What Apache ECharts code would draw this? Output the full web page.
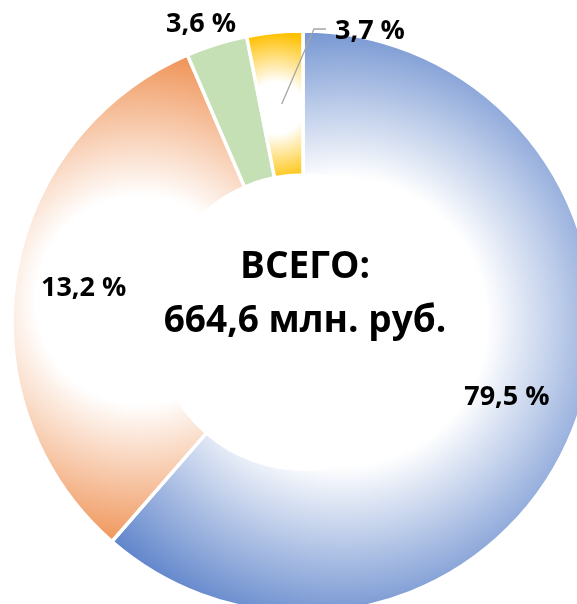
<!DOCTYPE html>
<html>
<head>
<meta charset="utf-8">
<script src="https://cdn.jsdelivr.net/npm/echarts@6/dist/echarts.min.js"></script>
<style>
  html, body { margin: 0; padding: 0; background: #fff; }
  #main { width: 577px; height: 604px; }
</style>
</head>
<body>
<div id="main"></div>
<script>
// label texts as printed on the chart
var shareLabels = ["79,5 %", "13,2 %", "3,6 %", "3,7 %"];
// slice sizes as drawn (measured from the angles in the picture)
var sliceSizes = [61.4, 32.1, 3.4, 3.1];
var sliceColors = ["#5d83ca", "#ee8a48", "#c5e0b4", "#ffc000"];
var totalLines = ["ВСЕГО:", "664,6 млн. руб."];

var cx = 303, cy = 322;
var font = "'Open Sans', 'Noto Sans', sans-serif";

var chartDom = document.getElementById("main");
var myChart = echarts.init(chartDom);

function glow(x, y, r, from, color) {
  return {
    type: "radial", x: x, y: y, r: r, global: true,
    colorStops: [
      { offset: 0, color: "#ffffff" },
      { offset: from, color: "#ffffff" },
      { offset: 1, color: color }
    ]
  };
}

var fills = [
  glow(cx + 40, cy, 320, 0.45, sliceColors[0]),
  glow(140, cy - 22, 260, 0.4, sliceColors[1]),
  sliceColors[2],
  glow(276, 108, 75, 0.35, sliceColors[3])
];

var data = sliceSizes.map(function (v, i) {
  var d = { value: v, itemStyle: { color: fills[i] } };
  if (i >= 2) {
    d.label = { position: "outside" };
  }
  return d;
});

function midPoint(i, r) {
  var s = 0;
  for (var k = 0; k < i; k++) s += sliceSizes[k];
  var total = sliceSizes.reduce(function (a, b) { return a + b; }, 0);
  var a = (90 - (s + sliceSizes[i] / 2) / total * 360) * Math.PI / 180;
  return [cx + r * Math.cos(a), cy - r * Math.sin(a)];
}

// leader line of the small yellow slice
var leader = [midPoint(3, 219), [cx + 11, cy - 293], [cx + 23, cy - 293]];

var option = {
  backgroundColor: "#ffffff",
  animation: false,
  series: [
    {
      type: "pie",
      center: [cx, cy],
      radius: [147, 291],
      startAngle: 90,
      clockwise: true,
      avoidLabelOverlap: false,
      itemStyle: { borderColor: "#ffffff", borderWidth: 3.5 },
      label: {
        show: true,
        position: "inside",
        formatter: function (p) { return shareLabels[p.dataIndex]; },
        color: "#000000",
        fontFamily: font,
        fontWeight: "bold",
        fontSize: 27
      },
      labelLine: { show: false },
      labelLayout: function (params) {
        if (params.dataIndex === 0) {
          return { dx: -4, dy: -3 };
        }
        if (params.dataIndex === 2) {
          return { x: cx - 102, y: cy - 298, align: "center", verticalAlign: "middle" };
        }
        if (params.dataIndex === 3) {
          return { x: cx + 32, y: cy - 291, align: "left", verticalAlign: "middle" };
        }
      },
      data: data
    }
  ],
  graphic: [
    {
      type: "polyline",
      z: 100,
      shape: { points: leader },
      style: { stroke: "#a6a6a6", lineWidth: 1.3, fill: null }
    },
    {
      type: "text",
      style: {
        text: totalLines[0], x: 305, y: 267,
        align: "center", verticalAlign: "middle",
        font: "bold 37px " + font, fill: "#000000"
      }
    },
    {
      type: "text",
      style: {
        text: totalLines[1], x: 305, y: 321,
        align: "center", verticalAlign: "middle",
        font: "bold 37px " + font, fill: "#000000"
      }
    }
  ]
};

myChart.setOption(option);
</script>
</body>
</html>
